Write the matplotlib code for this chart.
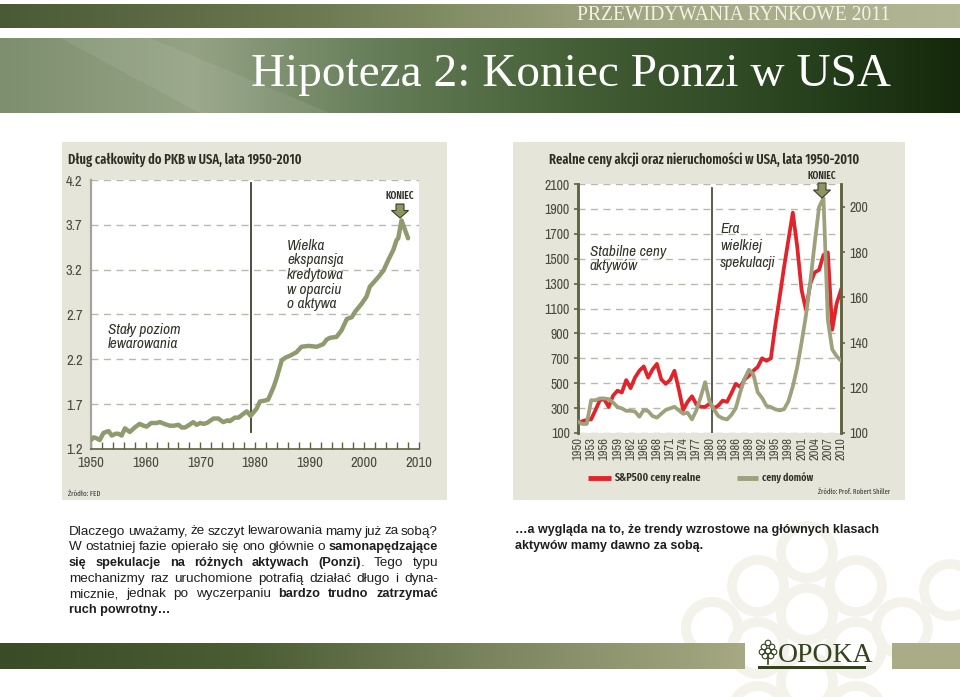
import numpy as np
import matplotlib
matplotlib.use("Agg")
import matplotlib.pyplot as plt
from matplotlib import font_manager as fm
from matplotlib.colors import LinearSegmentedColormap
from matplotlib.patches import Rectangle, Polygon, Circle

# ---------------- data ----------------
debt_years = [1950.0, 1950.5, 1951.0, 1951.6, 1952.3, 1953.2, 1953.8, 1954.5, 1955.0, 1955.6,
              1956.2, 1957.1, 1958.0, 1958.9, 1959.6, 1960.2, 1961.0, 1962.0, 1962.6, 1963.4,
              1964.4, 1965.2, 1966.0, 1966.6, 1967.2, 1968.0, 1968.7, 1969.3, 1970.0, 1970.6,
              1971.2, 1972.4, 1973.3, 1974.2, 1975.0, 1975.4, 1976.3, 1977.0, 1977.6, 1978.5,
              1979.2, 1980.3, 1980.9, 1981.8, 1982.4, 1983.4, 1984.0, 1984.9, 1985.6, 1986.4,
              1987.6, 1988.5, 1989.8, 1991.3, 1992.5, 1993.1, 1993.7, 1994.9, 1995.8, 1996.8,
              1997.7, 1998.3, 1999.5, 2000.4, 2001.0, 2002.6, 2003.5, 2004.4, 2005.3, 2005.9,
              2006.2, 2006.8, 2007.4, 2008.0]
debt_ratio = [1.30, 1.33, 1.32, 1.30, 1.38, 1.40, 1.35, 1.37, 1.37, 1.35,
              1.43, 1.39, 1.44, 1.48, 1.46, 1.45, 1.49, 1.49, 1.50, 1.48,
              1.46, 1.46, 1.47, 1.44, 1.44, 1.47, 1.50, 1.47, 1.49, 1.48,
              1.49, 1.54, 1.54, 1.50, 1.52, 1.51, 1.55, 1.55, 1.58, 1.62,
              1.57, 1.65, 1.73, 1.74, 1.75, 1.89, 2.00, 2.19, 2.22, 2.24,
              2.28, 2.34, 2.35, 2.34, 2.37, 2.42, 2.44, 2.45, 2.52, 2.65,
              2.67, 2.73, 2.82, 2.90, 3.01, 3.12, 3.19, 3.31, 3.42, 3.53,
              3.55, 3.75, 3.65, 3.55]
debt_ticks = [1.2, 1.7, 2.2, 2.7, 3.2, 3.7, 4.2]

years = list(range(1950, 2011))
sp500_real = [180, 195, 205, 210, 285, 365, 370, 310, 400, 440,
              425, 525, 460, 545, 600, 635, 545, 610, 655, 530,
              495, 525, 600, 450, 285, 350, 395, 330, 310, 310,
              335, 300, 320, 360, 350, 420, 495, 470, 530, 560,
              600, 630, 700, 680, 700, 960, 1190, 1430, 1650, 1870,
              1600, 1250, 1090, 1300, 1390, 1410, 1530, 1550, 930, 1140,
              1250]
house_prices = [105, 104, 104, 114.5, 114.5, 115.3, 115.3, 115, 113.5, 111.5,
                110.9, 109.8, 109.8, 109.5, 107.2, 110.2, 109.7, 107.5, 106.8, 108.5,
                110.2, 110.9, 111.6, 110, 108.5, 109, 106, 110, 116, 122.5,
                114, 110.5, 107.5, 106.5, 106, 108, 111, 118, 124, 128,
                126, 118, 115.5, 112, 111.5, 110.5, 110, 110.5, 114, 120.5,
                129, 140, 152, 167, 184, 200, 204, 150, 137, 134,
                132]
left_ticks = list(range(100, 2101, 200))
right_ticks = list(range(100, 201, 20))
year_labels = [str(y) for y in range(1950, 2011, 3)]

para_left = [
    "Dlaczego uważamy, że szczyt lewarowania mamy już za sobą?",
    "W ostatniej fazie opierało się ono głównie o **samonapędzające**",
    "**się spekulacje na różnych aktywach (Ponzi)**. Tego typu",
    "mechanizmy raz uruchomione potrafią działać długo i dyna-",
    "micznie, jednak po wyczerpaniu **bardzo trudno zatrzymać**",
    "**ruch powrotny…**",
]
para_right = [
    "**…a wygląda na to, że trendy wzrostowe na głównych klasach**",
    "**aktywów mamy dawno za sobą.**",
]

# ---------------- fonts ----------------
names = {f.name for f in fm.fontManager.ttflist}


def pick(*cands):
    for c in cands:
        if c in names:
            return c
    return "DejaVu Sans"


NARROW = pick("Liberation Sans Narrow", "Archivo Narrow", "Roboto Condensed", "Liberation Sans")
TITLE = pick("Fira Sans Extra Condensed", "Barlow Condensed", NARROW)
BODY = pick("Liberation Sans", "DejaVu Sans")
SERIF = pick("Liberation Serif", "DejaVu Serif")
plt.rcParams["font.family"] = [NARROW, "DejaVu Sans"]

W, H = 960, 697
fig = plt.figure(figsize=(W / 100, H / 100), dpi=100)
fig.patch.set_facecolor("white")
renderer = fig.canvas.get_renderer()


def box(x0, y0, x1, y1):
    return [x0 / W, 1 - y1 / H, (x1 - x0) / W, (y1 - y0) / H]


def pixel_axes(z):
    a = fig.add_axes([0, 0, 1, 1], zorder=z)
    a.set_xlim(0, W)
    a.set_ylim(H, 0)
    a.axis("off")
    a.patch.set_alpha(0)
    return a


bg = pixel_axes(0)
fg = pixel_axes(5)


def gradient(ax, x0, x1, y0, y1, colors):
    cmap = LinearSegmentedColormap.from_list("g", colors)
    ax.imshow(np.linspace(0, 1, 256)[None, :], cmap=cmap, aspect="auto",
              extent=(x0, x1, y1, y0), zorder=1)


def fit_text(ax, x, y, s, target, **kw):
    t = ax.text(x, y, s, fontsize=10, **kw)
    w = t.get_window_extent(renderer).width
    t.set_fontsize(10 * target / w)
    return t


# watermark rings
for cx, cy in [(807, 552), (758, 586), (856, 586), (807, 614), (712, 628), (902, 628),
               (758, 648), (856, 648), (807, 682), (758, 712), (856, 712), (950, 590)]:
    bg.add_patch(Circle((cx, cy), 26, fill=False, ec="#f3f2eb", lw=7, zorder=0.5))

gradient(bg, 0, W, 4, 28, ["#4a5a36", "#6d7b52", "#a2a783", "#b3b694"])
gradient(bg, 0, W, 38, 113, ["#7d8f6e", "#95a385", "#647c57", "#445f36", "#2c4722", "#15280b"])
bg.add_patch(Polygon([(60, 38), (150, 38), (330, 113), (200, 113)], closed=True,
                     fc="white", alpha=0.07, zorder=2))
gradient(bg, 0, 745, 643, 669, ["#394c27", "#4a5d33", "#7c8560", "#a6a982"])
bg.add_patch(Rectangle((892, 643), W - 892, 26, fc="#a9ac86", zorder=1))

bg.add_patch(Rectangle((62, 142), 385, 358, fc="#e5e5d9", zorder=1))
bg.add_patch(Rectangle((513, 142), 392, 358, fc="#e5e5d9", zorder=1))
bg.set_xlim(0, W)
bg.set_ylim(H, 0)

TXT = "#4a4a3e"
SPINE = "#5f6340"

# ---------------- left chart ----------------
ax1 = fig.add_axes(box(91, 180, 419, 449), zorder=2)
ax1.set_facecolor("white")
ax1.plot(debt_years, debt_ratio, color="#8f9a6f", lw=3.2, solid_joinstyle="round",
         solid_capstyle="round", zorder=3)
ax1.set_xlim(1950, 2010)
ax1.set_ylim(1.2, 4.2)
ax1.set_yticks(debt_ticks)
ax1.set_yticklabels([f"{v:.1f}" for v in debt_ticks])
ax1.set_xticks(range(1950, 2011, 10))
ax1.set_xticks(range(1950, 2011, 2), minor=True)
ax1.grid(axis="y", ls=(0, (5, 4)), color="#b8b8ad", lw=1)
for s in ("top", "right"):
    ax1.spines[s].set_visible(False)
ax1.spines["left"].set_color("#a4a596")
ax1.spines["left"].set_linewidth(1.6)
ax1.spines["bottom"].set_color(SPINE)
ax1.spines["bottom"].set_linewidth(1.2)
ax1.tick_params(axis="x", which="both", direction="in", color=SPINE, length=5, width=1,
                labelsize=10.5, labelcolor=TXT, pad=5)
ax1.tick_params(axis="y", length=0, pad=6, labelsize=10.5, labelcolor=TXT)
ax1.axvline(1979.3, ymin=(1.39 - 1.2) / 3.0, ymax=0.99, color="#3d4030", lw=1.3, zorder=2)

# ---------------- right chart ----------------
ax2 = fig.add_axes(box(578, 184, 841, 433), zorder=2)
ax2.set_facecolor("white")
ax2.plot(years, sp500_real, color="#e2232a", lw=2.7, solid_joinstyle="round", zorder=3)
ax2.set_xlim(1950, 2010)
ax2.set_ylim(100, 2100)
ax2.set_yticks(left_ticks)
ax2.set_xticks(range(1950, 2011, 3))
ax2.set_xticklabels(year_labels, rotation=90)
ax2.grid(axis="y", ls=(0, (5, 4)), color="#b8b8ad", lw=1)
ax2.axvline(1980.5, ymax=0.985, color="#3d4030", lw=1.2, zorder=2)
ax3 = ax2.twinx()
ax3.plot(years, house_prices, color="#9ea17c", lw=2.7, solid_joinstyle="round", zorder=3)
ax3.set_ylim(100, 100 + (433 - 184) / 45.2 * 20)
ax3.set_yticks(right_ticks)
for a in (ax2, ax3):
    for s in ("top", "bottom"):
        a.spines[s].set_visible(False)
    for s in ("left", "right"):
        a.spines[s].set_color(SPINE)
        a.spines[s].set_linewidth(1.8)
    a.tick_params(axis="y", length=3, width=1.2, color=SPINE, labelsize=10,
                  labelcolor=TXT, pad=3)
ax2.tick_params(axis="x", length=0, labelsize=9, labelcolor=TXT, pad=3)

# ---------------- texts ----------------
fit_text(fg, 890, 16, "PRZEWIDYWANIA RYNKOWE 2011", 314, ha="right", va="center",
         family=SERIF, color="#f4f2e6")
fit_text(fg, 891, 75, "Hipoteza 2: Koniec Ponzi w USA", 641, ha="right", va="center",
         family=SERIF, color="white")

head = dict(family=TITLE, fontweight="semibold", color="#2e2e26")
fit_text(fg, 68, 160, "Dług całkowity do PKB w USA, lata 1950-2010", 233, ha="left",
         va="center", **head)
fit_text(fg, 549, 160, "Realne ceny akcji oraz nieruchomości w USA, lata 1950-2010", 311,
         ha="left", va="center", **head)

ital = dict(fontstyle="italic", fontsize=11, color="#333329", ha="left", va="center",
            linespacing=1.05)
fg.text(108, 337, "Stały poziom\nlewarowania", **ital)
fg.text(287, 275, "Wielka\nekspansja\nkredytowa\nw oparciu\no aktywa", **ital)
fg.text(590, 259, "Stabilne ceny\naktywów", **ital)
fg.text(720, 246, "Era\nwielkiej\nspekulacji", **dict(ital, linespacing=1.3))


def arrow(cx, y0, yh, yt):
    pts = [(cx - 4, y0), (cx + 4, y0), (cx + 4, yh), (cx + 8.5, yh), (cx, yt),
           (cx - 8.5, yh), (cx - 4, yh)]
    fg.add_patch(Polygon(pts, closed=True, fc="#8e9562", ec="#3b3e28", lw=0.8, zorder=6))


fit_text(fg, 400, 196, "KONIEC", 29, ha="center", va="center", **head)
arrow(400, 204, 210.5, 218)
fit_text(fg, 822, 176, "KONIEC", 29, ha="center", va="center", **head)
arrow(822, 183, 190, 198)

fg.plot([588, 611], [478, 478], color="#e2232a", lw=3.5, solid_capstyle="butt")
fit_text(fg, 614, 478, "S&P500 ceny realne", 86, ha="left", va="center", **head)
fg.plot([737, 758], [478, 478], color="#9ea17c", lw=3.5, solid_capstyle="butt")
fit_text(fg, 762, 478, "ceny domów", 51, ha="left", va="center", **head)
fit_text(fg, 68, 494, "Źródło: FED", 32, ha="left", va="center", family=TITLE,
         color="#333")
fit_text(fg, 890, 492, "Źródło: Prof. Robert Shiller", 72, ha="right", va="center",
         family=TITLE, color="#333")

# logo
fg.text(778, 656, "OPOKA", ha="left", va="center", family=SERIF, fontsize=20,
        color="#33421f")
fg.add_patch(Rectangle((758, 666), 108, 2.5, fc="#33421f", lw=0))
for dx, dy in [(0, -9), (-4, -5), (4, -5), (-6, 0), (0, -1), (6, 0), (-3, 4), (3, 4)]:
    fg.add_patch(Circle((768 + dx, 652 + dy), 2.8, fill=False, ec="#33421f", lw=0.8))
fg.plot([768, 768], [657, 664], color="#33421f", lw=1.2)


# ---------------- paragraphs ----------------
def parse(line):
    words, runs, buf, bold, i = [], [], "", False, 0
    while i < len(line):
        if line.startswith("**", i):
            if buf:
                runs.append((buf, bold))
                buf = ""
            bold = not bold
            i += 2
            continue
        c = line[i]
        if c == " ":
            if buf:
                runs.append((buf, bold))
                buf = ""
            if runs:
                words.append(runs)
                runs = []
        else:
            buf += c
        i += 1
    if buf:
        runs.append((buf, bold))
    if runs:
        words.append(runs)
    return words


BOLD_SCALE = 0.95


def run_text(x, y, s, bold, size, draw=True):
    t = fg.text(x, y, s, fontsize=size * (BOLD_SCALE if bold else 1.0), family=BODY,
                fontweight="bold" if bold else "normal", color="#1e1e1e",
                ha="left", va="baseline")
    w = t.get_window_extent(renderer).width
    if not draw:
        t.remove()
    return w


def space_width(size):
    return run_text(0, 0, "a a", False, size, False) - run_text(0, 0, "aa", False, size, False)


def paragraph(lines, x0, x1, y0, dy, size, justify=True):
    space = space_width(size)
    for k, line in enumerate(lines):
        y = y0 + k * dy
        words = parse(line)
        if justify and k < len(lines) - 1 and len(words) > 1:
            widths = [sum(run_text(0, 0, s, b, size, False) for s, b in w) for w in words]
            gap = (x1 - x0 - sum(widths)) / (len(words) - 1)
            x = x0
            for w, ww in zip(words, widths):
                xx = x
                for s, b in w:
                    xx += run_text(xx, y, s, b, size)
                x += ww + gap
        else:
            # ragged line: draw whole runs so the spacing stays natural
            runs, cur, curb = [], "", None
            for w in words:
                for j, (s, b) in enumerate(w):
                    sep = " " if (j == 0 and cur) else ""
                    if curb is None or b == curb:
                        cur += sep + s
                    else:
                        runs.append((cur, curb))
                        cur = sep + s
                    curb = b
            runs.append((cur, curb))
            x = x0
            for s, b in runs:
                lead = space if s.startswith(" ") else 0
                x += lead + run_text(x + lead, y, s.strip(), b, size)


def fitted_size(lines, width, size):
    space = space_width(size)
    worst = 1.0
    for line in lines:
        words = parse(line)
        natural = sum(run_text(0, 0, s, b, size, False) for w in words for s, b in w)
        natural += 0.7 * space * (len(words) - 1)
        worst = max(worst, natural / width)
    return size / worst


ps_left = fitted_size(para_left[:-1], 438 - 69, 10)
paragraph(para_left, 69, 438, 534.5, 15.7, ps_left)

first = parse(para_right[0])
nat = sum(run_text(0, 0, s, b, 10, False) for w in first for s, b in w)
nat += space_width(10) * (len(first) - 1)
paragraph(para_right, 515, 900, 533.5, 15.7, 10 * 366 / nat, justify=False)

fg.set_xlim(0, W)
fg.set_ylim(H, 0)
fig.savefig("out.png", dpi=100)
